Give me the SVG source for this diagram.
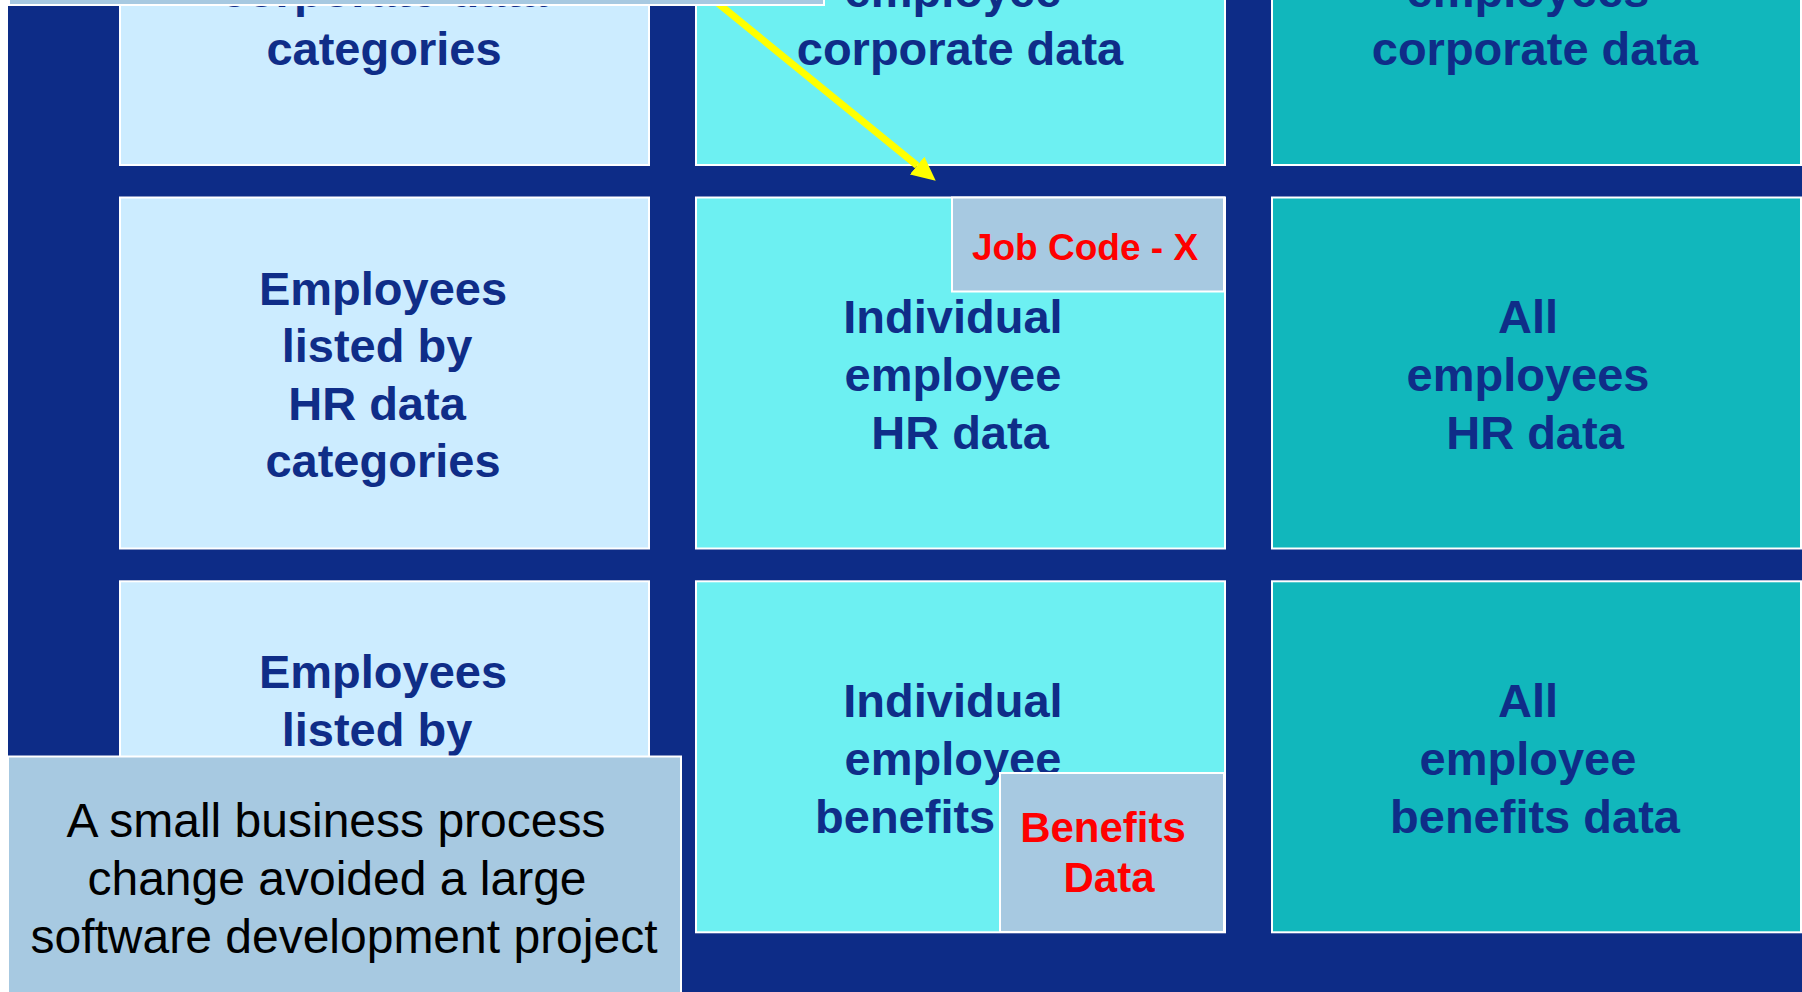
<svg xmlns="http://www.w3.org/2000/svg" width="1802" height="992" viewBox="0 0 1802 992">
<style>
.cell{stroke:#ffffff;stroke-width:2}
.c1{fill:#CCECFF}
.c2{fill:#6DF0F2}
.c3{fill:#11B7BC}
.note{fill:#A7C9E1;stroke:#ffffff;stroke-width:2}
.t{font-family:"Liberation Sans",Arial,sans-serif;font-weight:bold;font-size:47px;fill:#0F2D88;text-anchor:middle}
.r{font-family:"Liberation Sans",Arial,sans-serif;font-weight:bold;fill:#FF0000;text-anchor:middle}
.b{font-family:"Liberation Sans",Arial,sans-serif;font-size:48px;fill:#000000;text-anchor:middle}
.arrow{stroke:#FFFF00;stroke-width:7;fill:none}
</style>
<defs>
<marker id="ah" markerUnits="userSpaceOnUse" markerWidth="26" markerHeight="24" refX="0" refY="11.5" orient="auto">
<path d="M0,0 L24,11.5 L0,23 z" fill="#FFFF00"/>
</marker>
</defs>
<rect x="0" y="0" width="1802" height="992" fill="#ffffff"/>
<rect x="8" y="0" width="1794" height="992" fill="#0D2C87"/>

<g id="r1c1"><rect class="cell c1" x="120" y="-186" width="529" height="351"/>
<text class="t" x="384" y="7">corporate data</text>
<text class="t" x="384" y="65">categories</text></g>
<g id="r1c2"><rect class="cell c2" x="696" y="-186" width="529" height="351"/>
<text class="t" x="953" y="7">employee</text>
<text class="t" x="960" y="65">corporate data</text></g>
<g id="r1c3"><rect class="cell c3" x="1272" y="-186" width="529" height="351"/>
<text class="t" x="1528" y="7">employees</text>
<text class="t" x="1535" y="65">corporate data</text></g>

<g id="r2c1"><rect class="cell c1" x="120" y="197.5" width="529" height="351"/>
<text class="t" x="383" y="304.5">Employees</text>
<text class="t" x="377" y="362">listed by</text>
<text class="t" x="377" y="419.5">HR data</text>
<text class="t" x="383" y="477">categories</text></g>
<g id="r2c2"><rect class="cell c2" x="696" y="197.5" width="529" height="351"/>
<text class="t" x="953" y="333">Individual</text>
<text class="t" x="953" y="391">employee</text>
<text class="t" x="960" y="449">HR data</text></g>
<g id="r2c3"><rect class="cell c3" x="1272" y="197.5" width="529" height="351"/>
<text class="t" x="1528" y="333">All</text>
<text class="t" x="1528" y="391">employees</text>
<text class="t" x="1535" y="449">HR data</text></g>

<g id="r3c1"><rect class="cell c1" x="120" y="581.3" width="529" height="351"/>
<text class="t" x="383" y="688">Employees</text>
<text class="t" x="377" y="745.5">listed by</text></g>
<g id="r3c2"><rect class="cell c2" x="696" y="581.3" width="529" height="351"/>
<text class="t" x="953" y="717">Individual</text>
<text class="t" x="953" y="775">employee</text>
<text class="t" x="960" y="833">benefits data</text></g>
<g id="r3c3"><rect class="cell c3" x="1272" y="581.3" width="529" height="351"/>
<text class="t" x="1528" y="717">All</text>
<text class="t" x="1528" y="775">employee</text>
<text class="t" x="1535" y="833">benefits data</text></g>

<g id="jobcode"><rect class="note" x="952" y="197.5" width="272" height="94"/>
<text class="r" x="1085" y="260" font-size="37">Job Code - X</text></g>
<g id="benefits"><rect class="note" x="1000" y="773" width="224" height="159"/>
<text class="r" x="1103" y="842" font-size="42">Benefits</text>
<text class="r" x="1109" y="892" font-size="42">Data</text></g>

<g id="connectors">
<path class="arrow" d="M711.5,-2 L917.1,165.5" marker-end="url(#ah)"/>
</g>

<g id="topnote"><rect class="note" x="9" y="-12" width="815" height="17"/></g>

<g id="callout"><rect class="note" x="8" y="756.5" width="673" height="245"/>
<text class="b" x="336" y="836.7">A small business process</text>
<text class="b" x="337" y="895">change avoided a large</text>
<text class="b" x="344" y="952.7">software development project</text></g>
</svg>
